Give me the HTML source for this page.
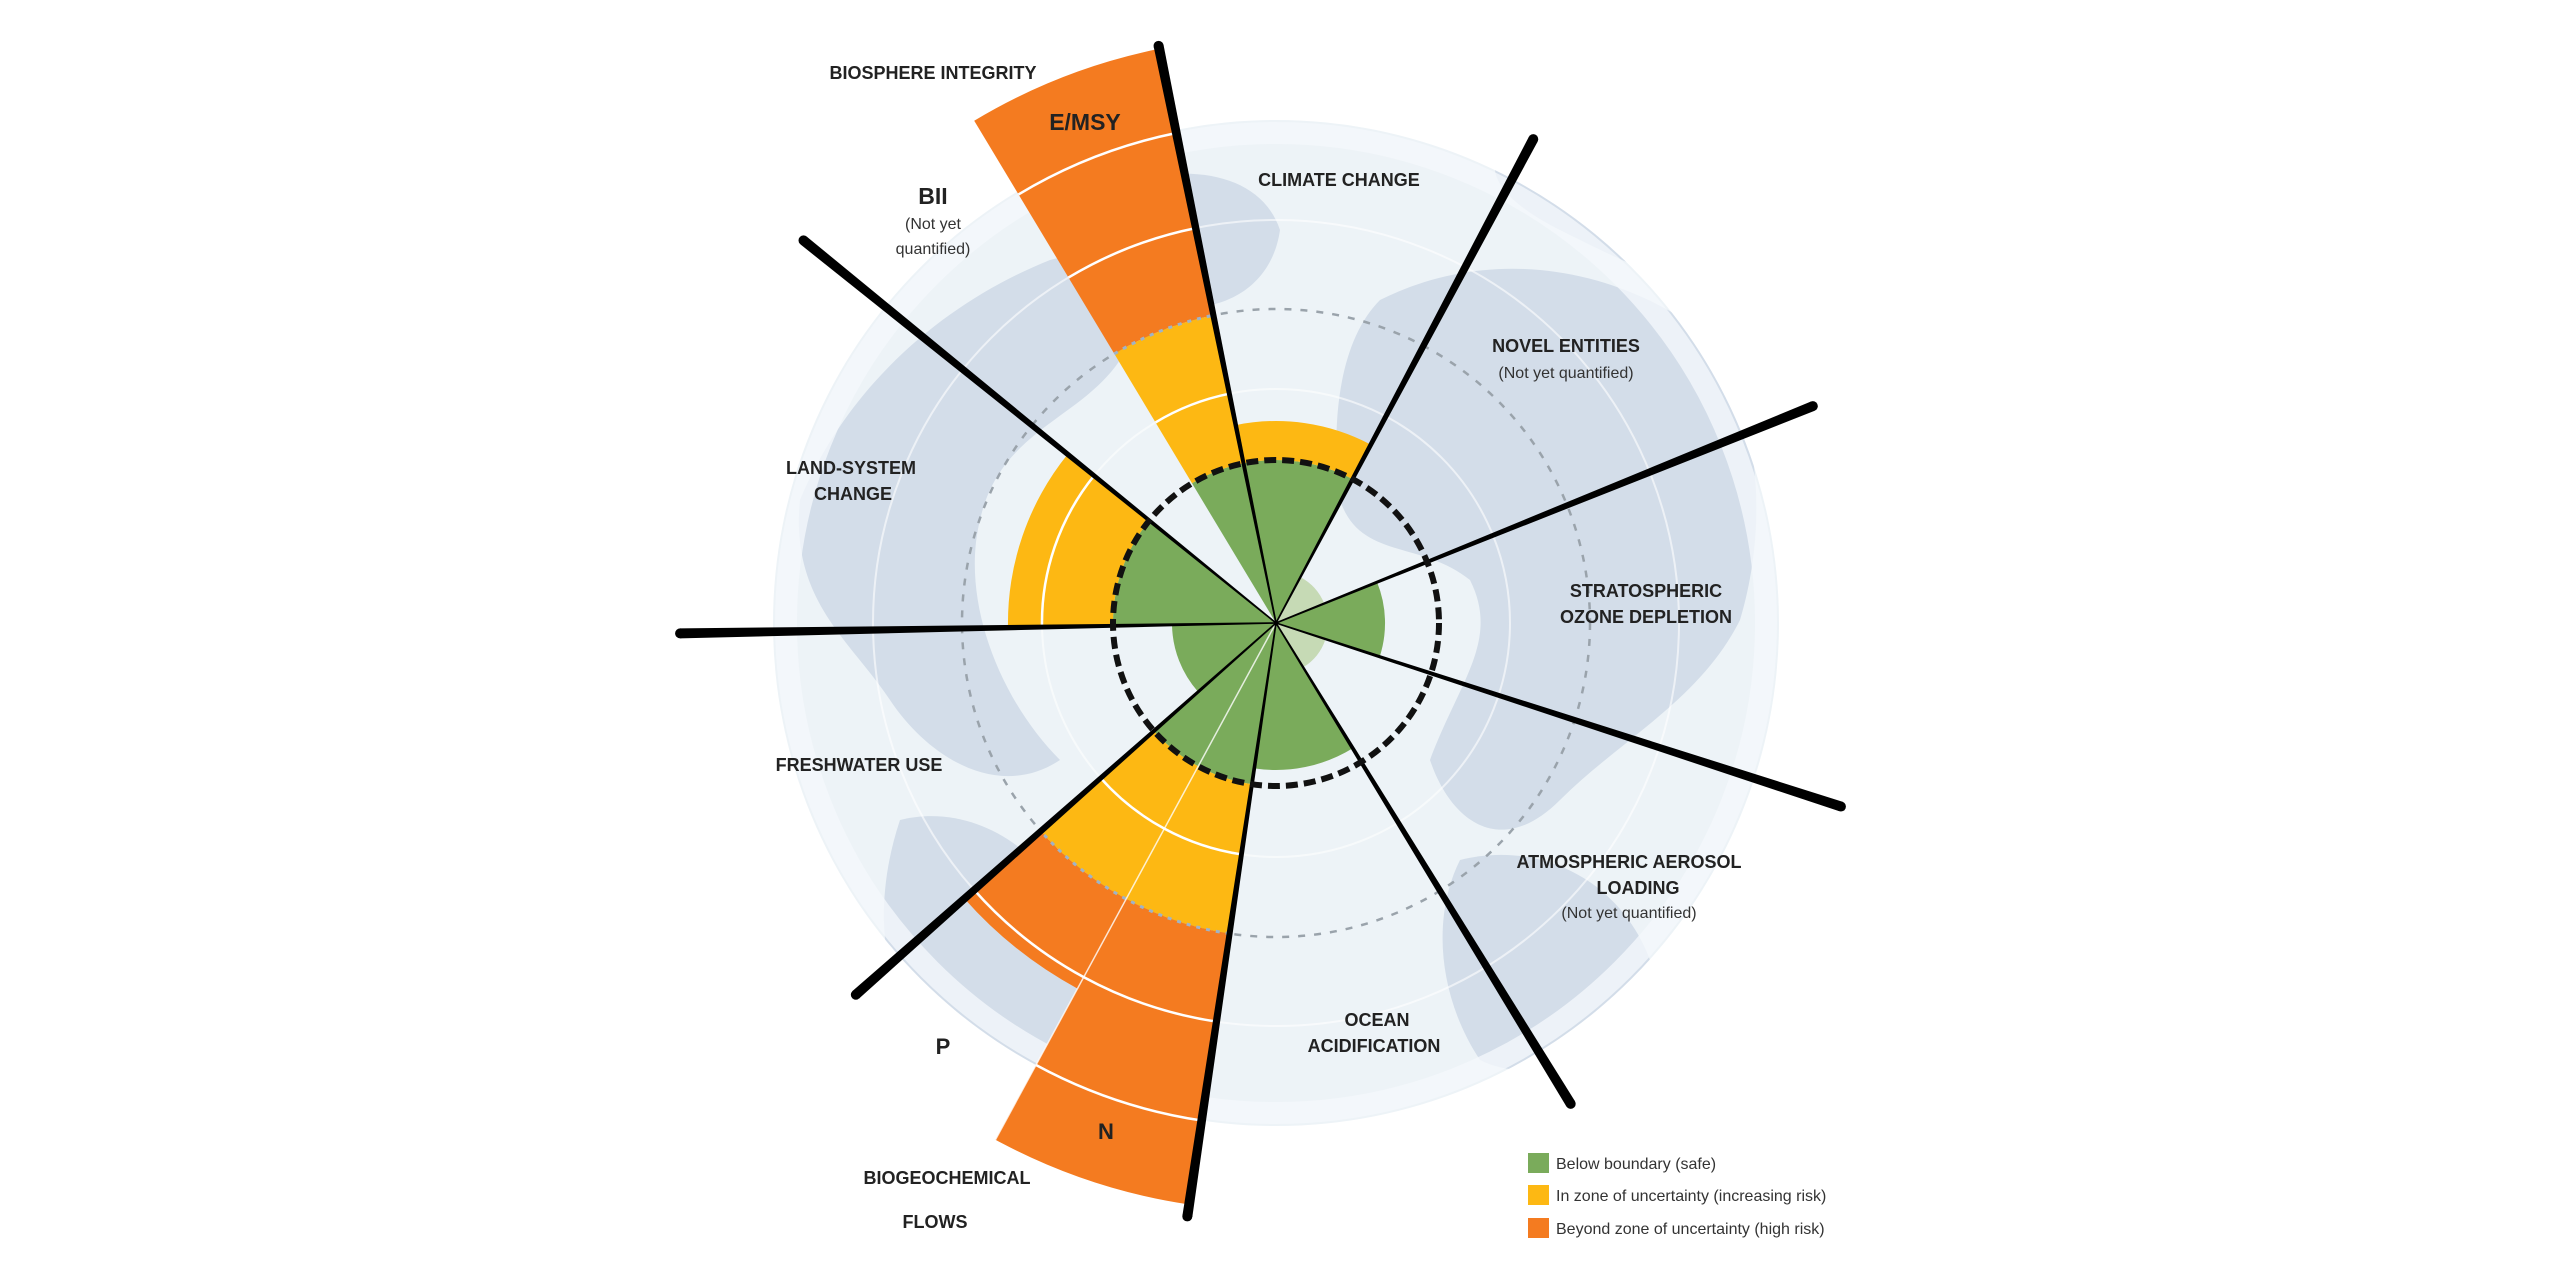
<!DOCTYPE html>
<html><head><meta charset="utf-8"><style>
html,body{margin:0;padding:0;background:#fff;}
svg{display:block}
.b{font-family:"Liberation Sans",sans-serif;font-weight:bold;fill:#222;text-anchor:middle;font-size:18px}
.r{font-family:"Liberation Sans",sans-serif;fill:#333;text-anchor:middle;font-size:16px}
.l{font-family:"Liberation Sans",sans-serif;fill:#333;font-size:16px}
</style></head><body>
<svg id="s" width="2560" height="1280" viewBox="0 0 2560 1280" xmlns="http://www.w3.org/2000/svg">
<defs><clipPath id="gc"><circle cx="1276" cy="623" r="503"/></clipPath></defs>
<circle cx="1276" cy="623" r="503" fill="#edf3f7"/>
<g clip-path="url(#gc)" fill="#d3dde9">
<path d="M800 500 C850 380 950 300 1050 260 C1120 240 1150 300 1120 360 C1080 420 1000 430 980 520 C960 600 1000 700 1060 760 C1000 800 930 760 890 700 C850 640 790 600 800 500Z"/>
<path d="M1100 190 C1180 160 1260 170 1280 230 C1270 300 1200 320 1150 300 C1110 280 1080 230 1100 190Z"/>
<path d="M900 820 C980 800 1060 860 1080 940 C1090 1040 1020 1100 960 1080 C900 1040 860 940 900 820Z"/>
<path d="M1380 300 C1480 250 1600 260 1700 330 C1760 400 1770 520 1740 620 C1700 700 1620 740 1560 800 C1500 860 1450 820 1430 760 C1460 680 1500 640 1470 580 C1420 540 1360 560 1340 500 C1330 420 1340 340 1380 300Z"/>
<path d="M1500 150 C1600 150 1700 220 1760 300 C1700 300 1620 260 1560 230 C1520 210 1480 180 1500 150Z"/>
<path d="M1460 860 C1540 840 1620 880 1650 960 C1620 1050 1540 1090 1480 1060 C1440 1000 1430 920 1460 860Z"/>
</g>
<circle cx="1276" cy="623" r="490" fill="none" stroke="#f4f8fb" stroke-width="22" opacity="0.8"/>
<g fill="none" stroke="#fff" stroke-width="2" opacity="0.6">
<circle cx="1276" cy="623" r="234"/><circle cx="1276" cy="623" r="403"/>
</g>
<circle cx="1276" cy="623" r="314" fill="none" stroke="#9aa3ab" stroke-width="2.5" stroke-dasharray="7 9"/>
<g id="sec"></g>
<g id="ln"></g>
<circle cx="1276" cy="623" r="163" fill="none" stroke="#111" stroke-width="6" stroke-dasharray="12 6"/>

<text class="b" x="933" y="79">BIOSPHERE INTEGRITY</text>
<text class="b" x="1085" y="130" style="font-size:23px">E/MSY</text>
<text class="b" x="933" y="204" style="font-size:23px">BII</text>
<text class="r" x="933" y="229">(Not yet</text>
<text class="r" x="933" y="254">quantified)</text>
<text class="b" x="1339" y="186">CLIMATE CHANGE</text>
<text class="b" x="1566" y="352">NOVEL ENTITIES</text>
<text class="r" x="1566" y="378">(Not yet quantified)</text>
<text class="b" x="1646" y="597">STRATOSPHERIC</text>
<text class="b" x="1646" y="623">OZONE DEPLETION</text>
<text class="b" x="851" y="474">LAND-SYSTEM</text>
<text class="b" x="853" y="500">CHANGE</text>
<text class="b" x="859" y="771">FRESHWATER USE</text>
<text class="b" x="1629" y="868">ATMOSPHERIC AEROSOL</text>
<text class="b" x="1638" y="894">LOADING</text>
<text class="r" x="1629" y="918">(Not yet quantified)</text>
<text class="b" x="1377" y="1026">OCEAN</text>
<text class="b" x="1374" y="1052">ACIDIFICATION</text>
<text class="b" x="943" y="1054" style="font-size:22px">P</text>
<text class="b" x="1106" y="1139" style="font-size:22px">N</text>
<text class="b" x="947" y="1184">BIOGEOCHEMICAL</text>
<text class="b" x="935" y="1228">FLOWS</text>

<rect x="1528" y="1153" width="21" height="20" fill="#7aab5b"/>
<rect x="1528" y="1185" width="21" height="20" fill="#fdb813"/>
<rect x="1528" y="1218" width="21" height="20" fill="#f47b20"/>
<text class="l" x="1556" y="1169">Below boundary (safe)</text>
<text class="l" x="1556" y="1201">In zone of uncertainty (increasing risk)</text>
<text class="l" x="1556" y="1234">Beyond zone of uncertainty (high risk)</text>
</svg>
<script>
var cx=1276,cy=623,NS="http://www.w3.org/2000/svg";
function P(r,a){a=a*Math.PI/180;return [cx+r*Math.sin(a),cy-r*Math.cos(a)];}
function f(p){return p[0].toFixed(1)+" "+p[1].toFixed(1);}
function sec(r1,r2,a1,a2,fill,g){
 var d;
 if(r1<=0){d="M"+cx+" "+cy+" L"+f(P(r2,a1))+" A"+r2+" "+r2+" 0 0 1 "+f(P(r2,a2))+" Z";}
 else d="M"+f(P(r1,a1))+" L"+f(P(r2,a1))+" A"+r2+" "+r2+" 0 0 1 "+f(P(r2,a2))+" L"+f(P(r1,a2))+" A"+r1+" "+r1+" 0 0 0 "+f(P(r1,a1))+" Z";
 var e=document.createElementNS(NS,"path");e.setAttribute("d",d);e.setAttribute("fill",fill);g.appendChild(e);}
function arc(r,a1,a2,col,w,g,dash){
 var e=document.createElementNS(NS,"path");
 e.setAttribute("d","M"+f(P(r,a1))+" A"+r+" "+r+" 0 0 1 "+f(P(r,a2)));
 e.setAttribute("fill","none");e.setAttribute("stroke",col);e.setAttribute("stroke-width",w);
 if(dash)e.setAttribute("stroke-dasharray",dash);g.appendChild(e);}
var g=document.getElementById("sec");
var G="#7aab5b",Y="#fdb813",O="#f47b20",PG="#c6dab5";
var A=[-11.5,28,68,108,148.5,188.5,228.5,269,309];
sec(0,52,A[1],A[2],PG,g);sec(0,52,A[3],A[4],PG,g);
sec(0,163,A[0],A[1],G,g);sec(163,202,A[0],A[1],Y,g);
sec(0,109,A[2],A[3],G,g);
sec(0,147,A[4],A[5],G,g);
sec(0,163,A[5],A[6],G,g);sec(163,314,A[5],A[6],Y,g);
sec(314,588,A[5],208.5,O,g);sec(314,416,208.5,A[6],O,g);
sec(0,104,A[6],A[7],G,g);
sec(0,163,A[7],A[8],G,g);sec(163,268,A[7],A[8],Y,g);
sec(0,163,329,A[0]+360,G,g);sec(163,314,329,A[0]+360,Y,g);sec(314,586,329,A[0]+360,O,g);
arc(234,A[5],A[6],"#fff",2.5,g);arc(403,A[5],A[6],"#fff",2.5,g);arc(503,A[5],208.5,"#fff",2.5,g);
arc(234,A[7],A[8],"#fff",2.5,g);
arc(234,329,348.5,"#fff",2.5,g);arc(403,329,348.5,"#fff",2.5,g);arc(500,329,348.5,"#fff",2.5,g);
arc(314,A[5],A[6],"#9fb3c8",3,g,"4 6");arc(314,329,348.5,"#9fb3c8",3,g,"4 6");
(function(){var e=document.createElementNS(NS,"line");var p=P(588,208.5);
e.setAttribute("x1",cx);e.setAttribute("y1",cy);e.setAttribute("x2",p[0]);e.setAttribute("y2",p[1]);
e.setAttribute("stroke","#fff");e.setAttribute("stroke-width","1.5");e.setAttribute("opacity","0.8");g.appendChild(e);})();
var ln=document.getElementById("ln");
var R=[589,548,579,594,564,600,561,596,608];
for(var i=0;i<9;i++){
 var a=A[i],r=R[i],e1=P(r,a),rad=a*Math.PI/180;
 var nx=Math.cos(rad),ny=Math.sin(rad);
 var w0=0.8,w1=5;
 var pts=[[cx+nx*w0,cy+ny*w0],[e1[0]+nx*w1,e1[1]+ny*w1],[e1[0]-nx*w1,e1[1]-ny*w1],[cx-nx*w0,cy-ny*w0]];
 var e=document.createElementNS(NS,"polygon");
 e.setAttribute("points",pts.map(f).join(" "));e.setAttribute("fill","#000");ln.appendChild(e);
 var c=document.createElementNS(NS,"circle");c.setAttribute("cx",e1[0]);c.setAttribute("cy",e1[1]);c.setAttribute("r",w1);c.setAttribute("fill","#000");ln.appendChild(c);
}
</script>
</body></html>
